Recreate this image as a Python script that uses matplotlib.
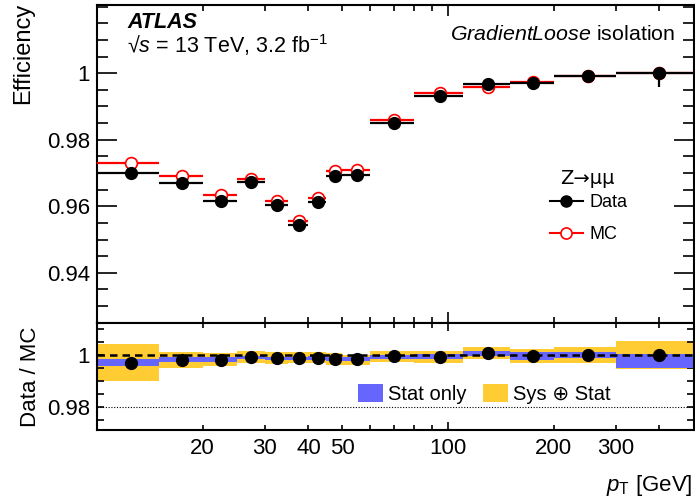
import numpy as np
import matplotlib
matplotlib.use("Agg")
import matplotlib.pyplot as plt
from matplotlib.lines import Line2D
from matplotlib.patches import Patch
from matplotlib.ticker import FixedLocator, FixedFormatter

plt.rcParams['font.family'] = ['Liberation Sans', 'DejaVu Sans']
plt.rcParams['mathtext.fontset'] = 'custom'
plt.rcParams['mathtext.rm'] = 'Liberation Sans'
plt.rcParams['mathtext.it'] = 'Liberation Sans:italic'
plt.rcParams['mathtext.bf'] = 'Liberation Sans:bold'

# ---------------- data ----------------
bin_edges = [10, 15, 20, 25, 30, 35, 40, 45, 50, 60, 80, 110, 150, 200, 300, 500]
eff_data = [0.9700, 0.9670, 0.9617, 0.9674, 0.9604, 0.9544, 0.9612, 0.9690, 0.9694,
            0.9851, 0.9932, 0.9967, 0.9972, 0.9991, 1.0000]
eff_mc = [0.9730, 0.9690, 0.9635, 0.9682, 0.9615, 0.9555, 0.9624, 0.9705, 0.9709,
          0.9858, 0.9939, 0.9960, 0.9975, 0.9992, 1.0000]
data_err_lo = [0.0004, 0.0004, 0.0003, 0.0003, 0.0003, 0.0003, 0.0003, 0.0003, 0.0003,
               0.0003, 0.0004, 0.0006, 0.0008, 0.0012, 0.0040]
data_err_hi = [0.0004, 0.0004, 0.0003, 0.0003, 0.0003, 0.0003, 0.0003, 0.0003, 0.0003,
               0.0003, 0.0004, 0.0006, 0.0008, 0.0008, 0.0000]
ratio = [0.9970, 0.9981, 0.9981, 0.9991, 0.9987, 0.9987, 0.9989, 0.9983, 0.9983,
         0.9995, 0.9994, 1.0006, 0.9997, 1.0000, 1.0000]
stat_lo = [0.9957, 0.9972, 0.9972, 0.9983, 0.9980, 0.9980, 0.9982, 0.9975, 0.9975,
           0.9986, 0.9983, 0.9995, 0.9981, 0.9989, 0.9951]
stat_hi = [0.9983, 0.9991, 0.9991, 0.9998, 0.9994, 0.9994, 0.9996, 0.9991, 0.9991,
           1.0002, 1.0005, 1.0017, 1.0011, 1.0011, 1.0003]
tot_lo = [0.9899, 0.9951, 0.9959, 0.9970, 0.9967, 0.9968, 0.9968, 0.9961, 0.9961,
          0.9973, 0.9971, 0.9984, 0.9968, 0.9970, 0.9947]
tot_hi = [1.0043, 1.0010, 1.0006, 1.0017, 1.0011, 1.0012, 1.0010, 1.0006, 1.0002,
          1.0015, 1.0017, 1.0032, 1.0022, 1.0030, 1.0053]

x_major = [100]
x_minor = [20, 30, 40, 50, 60, 70, 80, 90, 200, 300, 400]
x_minor_labels = ['20', '30', '40', '50', '', '', '', '', '200', '300', '']
eff_ticks = [0.94, 0.96, 0.98, 1.0]
eff_tick_labels = ['0.94', '0.96', '0.98', '1']
ratio_ticks = [0.98, 1.0]
ratio_tick_labels = ['0.98', '1']

# ---------------- derived ----------------
edges = np.array(bin_edges, dtype=float)
lo_e, hi_e = edges[:-1], edges[1:]
xc = 0.5 * (lo_e + hi_e)
xerr = [xc - lo_e, hi_e - xc]
widths = hi_e - lo_e

W, H = 695, 501
fig = plt.figure(figsize=(W / 100, H / 100), dpi=100)

def fx(px):
    return px / W

def fy(py):
    return 1 - py / H

ax_l, ax_r = 97, 693.5
top_t, top_b = 5, 322.7
rat_b = 430
ax = fig.add_axes([fx(ax_l), fy(top_b), fx(ax_r - ax_l), (top_b - top_t) / H])
rax = fig.add_axes([fx(ax_l), fy(rat_b), fx(ax_r - ax_l), (rat_b - top_b) / H], sharex=ax)

pt = 0.72  # points per pixel at 100 dpi

# ---------------- top panel ----------------
ax.errorbar(xc, eff_mc, xerr=xerr, fmt='o', color='red', mfc='white', mec='red',
            mew=1.2, ms=8.5, lw=1.6, capsize=0, zorder=3)
ax.errorbar(xc, eff_data, xerr=xerr, yerr=[data_err_lo, data_err_hi], fmt='o',
            color='black', ms=8.5, lw=1.6, capsize=0, zorder=4)

ax.set_xscale('log')
ax.set_xlim(10, 500)
ax.set_ylim(0.925, 1.0205)
ax.yaxis.set_major_locator(FixedLocator(eff_ticks))
ax.yaxis.set_major_formatter(FixedFormatter(eff_tick_labels))
ax.yaxis.set_minor_locator(FixedLocator(np.arange(0.925, 1.021, 0.005)))
ax.xaxis.set_major_locator(FixedLocator(x_major))
ax.xaxis.set_minor_locator(FixedLocator(x_minor))
ax.tick_params(axis='both', which='both', direction='in', top=True, right=True,
               labelsize=16, width=1.2, pad=5)
ax.tick_params(axis='y', which='major', length=20 * pt)
ax.tick_params(axis='y', which='minor', length=11 * pt)
ax.tick_params(axis='x', which='major', length=11 * pt)
ax.tick_params(axis='x', which='minor', length=6 * pt)
ax.tick_params(axis='x', which='both', labelbottom=False)
for s in ax.spines.values():
    s.set_linewidth(1.5)

ax.set_ylabel('Efficiency', loc='top', fontsize=17)
ax.yaxis.set_label_coords((34 - ax_l) / (ax_r - ax_l), 1.006)

fig.text(fx(127), fy(22), 'ATLAS', fontsize=15.5, fontweight='bold', style='italic',
         ha='left', va='center')
fig.text(fx(127), fy(45), '√$s$ = 13 TeV, 3.2 fb$^{-1}$', fontsize=15.5,
         ha='left', va='center')
fig.text(fx(675), fy(35), r'$\mathit{GradientLoose}$ isolation', fontsize=15.4,
         ha='right', va='center')

fig.text(fx(560), fy(178), 'Z→μμ', fontsize=14, family=['DejaVu Sans'],
         ha='left', va='center')
h_data = Line2D([], [], color='black', marker='o', ms=8, lw=1.5)
h_mc = Line2D([], [], color='red', marker='o', mfc='white', mec='red', mew=1.2, ms=8, lw=1.5)
fig.legend([h_data, h_mc], ['Data', 'MC'], loc='upper left',
           bbox_to_anchor=(fx(550), fy(194)), bbox_transform=fig.transFigure,
           frameon=False, fontsize=13, borderpad=0, borderaxespad=0,
           handlelength=1.8, handletextpad=0.4, labelspacing=0.85)

# ---------------- ratio panel ----------------
rax.bar(lo_e, np.array(tot_hi) - np.array(tot_lo), bottom=tot_lo, width=widths,
        align='edge', color='#ffcc33', lw=0, zorder=1)
rax.bar(lo_e, np.array(stat_hi) - np.array(stat_lo), bottom=stat_lo, width=widths,
        align='edge', color='#6666ff', lw=0, zorder=2)
rax.axhline(1.0, color='black', ls=(0, (3, 2)), lw=1.8, zorder=3)
rax.axhline(0.98, color='black', ls=(0, (1, 1.5)), lw=0.8, zorder=3)
rax.plot(xc, ratio, 'o', color='black', ms=8.5, zorder=4)

rax.set_ylim(0.971, 1.0125)
rax.yaxis.set_major_locator(FixedLocator(ratio_ticks))
rax.yaxis.set_major_formatter(FixedFormatter(ratio_tick_labels))
rax.yaxis.set_minor_locator(FixedLocator([0.975, 0.985, 0.99, 0.995, 1.005, 1.01]))
rax.xaxis.set_major_locator(FixedLocator(x_major))
rax.xaxis.set_minor_locator(FixedLocator(x_minor))
rax.xaxis.set_major_formatter(FixedFormatter(['100']))
rax.xaxis.set_minor_formatter(FixedFormatter(x_minor_labels))
rax.tick_params(axis='both', which='both', direction='in', top=True, right=True,
                labelsize=16, width=1.2)
rax.tick_params(axis='y', which='both', length=7 * pt, pad=5)
rax.tick_params(axis='x', which='major', length=8 * pt, pad=6)
rax.tick_params(axis='x', which='minor', length=5 * pt, pad=6)
for s in rax.spines.values():
    s.set_linewidth(1.5)

rax.set_ylabel('Data / MC', fontsize=16)
rax.yaxis.set_label_coords((41 - ax_l) / (ax_r - ax_l), 0.5)

fig.text(fx(693), fy(485), r'$p_{\mathrm{T}}$ [GeV]', fontsize=16, ha='right', va='center')

h_stat = Patch(facecolor='#6666ff', edgecolor='none')
h_tot = Patch(facecolor='#ffcc33', edgecolor='none')
fig.legend([h_stat, h_tot], ['Stat only', 'Sys ⊕ Stat'], ncol=2, loc='upper left',
           bbox_to_anchor=(fx(358), fy(384)), bbox_transform=fig.transFigure,
           frameon=False, fontsize=14.5, borderpad=0, borderaxespad=0,
           handlelength=1.25, handleheight=1.0, handletextpad=0.25, columnspacing=0.8)

fig.savefig('out.png', dpi=100)
